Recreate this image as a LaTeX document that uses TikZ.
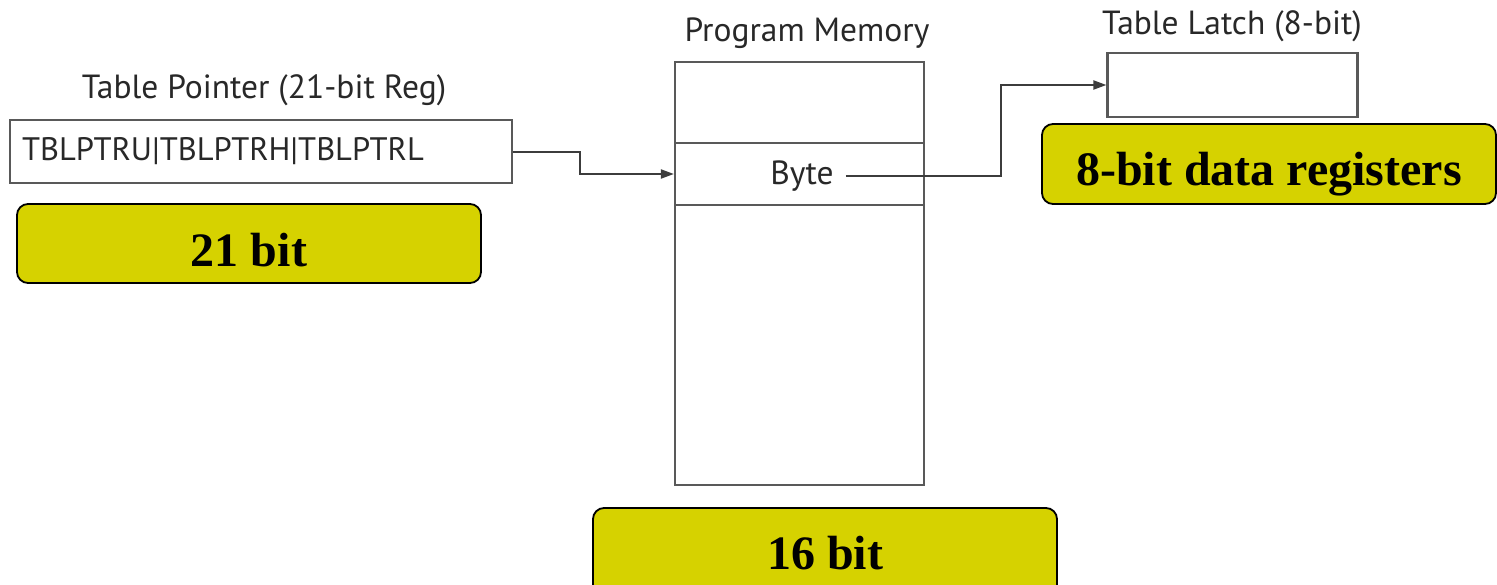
\documentclass[tikz,border=0pt]{standalone}
\usepackage{fontspec}
\setmainfont{Liberation Serif}
\newfontfamily\diagsans{PT Sans}
\usetikzlibrary{arrows.meta}
\definecolor{tagyellow}{RGB}{214,210,0}
\definecolor{linegray}{RGB}{60,60,60}
\definecolor{textgray}{RGB}{40,40,40}
\tikzset{
  regbox/.style={draw=linegray!85, line width=2.2pt, fill=white, inner sep=0pt},
  lbl/.style={font=\diagsans\fontsize{33.5}{36}\selectfont, text=textgray, inner sep=0pt},
  tag/.style={draw=black, line width=1.8pt, fill=tagyellow, rounded corners=11pt, inner sep=0pt,
    font=\fontsize{48}{52}\selectfont\bfseries},
  conn/.style={draw=linegray, line width=2pt, -{Triangle[length=13pt,width=9pt]}},
}
\begin{document}
\begin{tikzpicture}[x=1pt,y=-1pt]
\useasboundingbox (0,0) rectangle (1497,584);
% table pointer
\node[lbl] (tplbl) at (264,90) {Table Pointer (21-bit Reg)};
\node[regbox, minimum width=502pt, minimum height=63pt, text width=478pt, align=left,
  font=\diagsans\fontsize{32.5}{36}\selectfont, text=textgray] (tp) at (261,151.5) {TBLPTRU|TBLPTRH|TBLPTRL};
\node[tag, minimum width=464pt, minimum height=79pt, text height=45pt, text depth=0pt] (t21) at (249,243.5) {21 bit};
% program memory
\node[lbl] (pmlbl) at (807,33) {Program Memory};
\node[regbox, minimum width=249pt, minimum height=423pt] (mem) at (799.5,273.5) {};
\node[regbox, minimum width=249pt, minimum height=62pt] (byte) at (799.5,174) {};
\node[lbl] (bytetxt) at (802,176) {Byte};
\node[tag, minimum width=464pt, minimum height=90pt] (t16) at (825,553) {16 bit};
% table latch
\node[lbl] (tllbl) at (1232,26) {Table Latch (8-bit)};
\node[regbox, minimum width=250pt, minimum height=64pt] (latch) at (1232.5,85) {};
\node[tag, minimum width=454pt, minimum height=80pt, text height=53pt, text depth=10.4pt] (t8) at (1269,164) {8-bit data registers};
% connectors
\coordinate (bendA) at (580,0);
\coordinate (bendB) at (989,0);
\draw[conn] (tp.east) -- (tp.east -| bendA) |- (byte.west);
\draw[conn] ([xshift=12pt]bytetxt.east) -- ([xshift=12pt]bytetxt.east -| bendB) |- (latch.west);
\end{tikzpicture}
\end{document}
